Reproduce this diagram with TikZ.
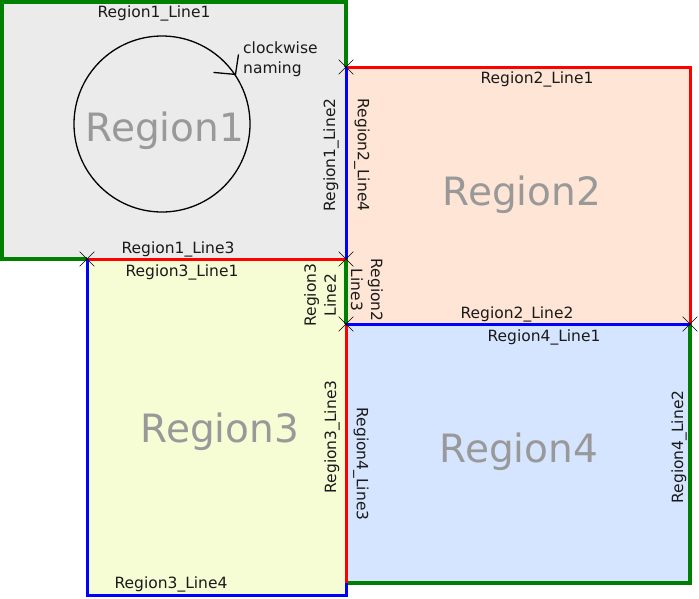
\documentclass[tikz,border=0pt]{standalone}
\usepackage{fontspec}
\setmainfont{DejaVu Sans}
\usetikzlibrary{shapes.misc}

\definecolor{fillone}{HTML}{EBEBEB}
\definecolor{filltwo}{HTML}{FFE5D5}
\definecolor{fillthree}{HTML}{F6FDD5}
\definecolor{fillfour}{HTML}{D5E5FF}
\definecolor{edgegreen}{HTML}{008000}
\definecolor{edgered}{HTML}{FF0000}
\definecolor{edgeblue}{HTML}{0000FF}
\definecolor{namegray}{HTML}{999999}
\definecolor{labelink}{HTML}{1A1A1A}

\tikzset{
  greenedge/.style={line width=3.5pt, draw=edgegreen, line join=miter},
  rededge/.style={line width=3pt, draw=edgered, line join=miter},
  blueedge/.style={line width=3pt, draw=edgeblue, line join=miter},
  crossmark/.style={draw=black, cross out, line width=0.6pt, minimum size=14pt, inner sep=0pt},
  linelabel/.style={font=\fontsize{15.5}{20}\selectfont, text=labelink, inner sep=0pt},
  regionname/.style={font=\fontsize{39}{41}\selectfont, text=namegray, inner sep=0pt}
}

\begin{document}
\begin{tikzpicture}[x=1pt,y=-1pt]
  \useasboundingbox (0,0) rectangle (699,598);

  \coordinate (r1nw) at (2,2);
  \coordinate (r1ne) at (346,2);
  \coordinate (r1sw) at (2,259);
  \coordinate (r1se) at (346,259);
  \coordinate (r2nw) at (346,67);
  \coordinate (r2ne) at (690,67);
  \coordinate (r2sw) at (346,324);
  \coordinate (r2se) at (690,324);
  \coordinate (r3nw) at (87,259);
  \coordinate (r3sw) at (87,595);
  \coordinate (r3se) at (346,595);
  \coordinate (r4sw) at (346,583);
  \coordinate (r4se) at (690,583);

  \fill [fillone] (r1nw) rectangle (r1se);
  \fill [filltwo] (r2nw) rectangle (r2se);
  \fill [fillthree] (r3nw) rectangle (r3se);
  \fill [fillfour] (r2sw) rectangle (r4se);

  \draw [greenedge] (r3nw) -- (r1sw) -- (r1nw) -- (r1ne) -- (r2nw);
  \draw [greenedge] (r1se) -- (r2sw);
  \draw [greenedge] (r2se) -- (r4se) -- (r4sw);
  \draw [rededge] (r3nw) -- (r1se);
  \draw [rededge] (r2nw) -- (r2ne) -- (r2se);
  \draw [rededge] (r2sw) -- (r4sw);
  \draw [blueedge] (r2nw) -- (r1se);
  \draw [blueedge] (r2sw) -- (r2se);
  \draw [blueedge] (r3nw) -- (r3sw) -- (r3se) -- (r4sw);

  \node [crossmark] (x1) at (r2nw) {};
  \node [crossmark] (x2) at (r3nw) {};
  \node [crossmark] (x3) at (r1se) {};
  \node [crossmark] (x4) at (r2sw) {};
  \node [crossmark] (x5) at (r2se) {};

  \node [circle, draw, line width=1.3pt, minimum size=176pt, inner sep=0pt] (loop) at (162,124) {};
  \draw [line width=1.3pt] ([shift={(-22,-2)}]loop.34) -- (loop.34) -- ++(3,-20);
  \node [linelabel, align=left, anchor=north west] (hint) at (243,42) {clockwise\\naming};

  \node [regionname, anchor=base] (n1) at (165,141) {Region1};
  \node [regionname, anchor=base] (n2) at (522,205) {Region2};
  \node [regionname, anchor=base] (n3) at (220,442) {Region3};
  \node [regionname, anchor=base] (n4) at (519,462) {Region4};

  \node [linelabel, anchor=base] (l11) at (154,17) {Region1\_Line1};
  \node [linelabel, rotate=90] (l12) at (331,155) {Region1\_Line2};
  \node [linelabel, anchor=base] (l13) at (178,253) {Region1\_Line3};
  \node [linelabel, anchor=base] (l21) at (537,83) {Region2\_Line1};
  \node [linelabel, anchor=base] (l22) at (517,318) {Region2\_Line2};
  \node [linelabel, rotate=-90, align=center] (l23) at (367,290) {Region2\\Line3};
  \node [linelabel, rotate=-90] (l24) at (362,155) {Region2\_Line4};
  \node [linelabel, anchor=base] (l31) at (182,276) {Region3\_Line1};
  \node [linelabel, rotate=90, align=center] (l32) at (320,295) {Region3\\Line2};
  \node [linelabel, rotate=90] (l33) at (332,437) {Region3\_Line3};
  \node [linelabel, anchor=base] (l34) at (171,588) {Region3\_Line4};
  \node [linelabel, anchor=base] (l41) at (544,341) {Region4\_Line1};
  \node [linelabel, rotate=90] (l42) at (679,447) {Region4\_Line2};
  \node [linelabel, rotate=-90] (l43) at (361,464) {Region4\_Line3};
\end{tikzpicture}
\end{document}
